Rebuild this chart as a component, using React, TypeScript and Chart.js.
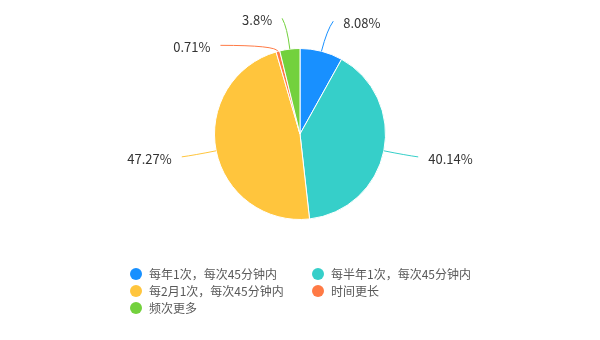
import React, { useEffect, useRef } from "react";
import { Chart, registerables } from "chart.js";

Chart.register(...registerables);

const categories = ["每年1次，每次45分钟内", "每半年1次，每次45分钟内", "每2月1次，每次45分钟内", "时间更长", "频次更多"];
const values = [8.08, 40.14, 47.27, 0.71, 3.8];
const valueLabels = ["8.08%", "40.14%", "47.27%", "0.71%", "3.8%"];
const colors = ["#1890FF", "#36CFC9", "#FFC53D", "#FF7A45", "#73D13D"];

const FONT = "'Noto Sans CJK SC', 'Noto Sans', sans-serif";

const labelPlugin = {
  id: "pieLabels",
  afterDatasetsDraw(chart: any) {
    const ctx = chart.ctx;
    const meta = chart.getDatasetMeta(0);
    const items: any[] = [];
    meta.data.forEach((arc: any, i: number) => {
      const p = arc.getProps(["x", "y", "startAngle", "endAngle", "outerRadius"], true);
      const mid = (p.startAngle + p.endAngle) / 2;
      const r = p.outerRadius;
      const R = r + 31;
      items.push({
        i,
        cx: p.x,
        cy: p.y,
        r,
        R,
        mid,
        right: Math.cos(mid) >= 0,
        y: p.y + Math.sin(mid) * R,
      });
    });
    [true, false].forEach((side) => {
      const group = items.filter((it) => it.right === side).sort((a, b) => a.y - b.y);
      for (let k = 1; k < group.length; k++) {
        if (group[k].y - group[k - 1].y < 27) group[k].y = group[k - 1].y + 27;
      }
    });
    ctx.save();
    items.forEach((it) => {
      const dy = it.y - it.cy;
      const dx = Math.sqrt(Math.max(it.R * it.R - dy * dy, 0)) + 4;
      const ax = it.cx + (it.right ? dx : -dx);
      const ay = it.y;
      const ex = it.cx + Math.cos(it.mid) * it.r;
      const ey = it.cy + Math.sin(it.mid) * it.r;
      let cr = it.r + 22;
      const s = Math.abs(Math.sin(it.mid));
      if (s > 0.2) cr = Math.min(cr, Math.abs(dy) / s);
      cr = Math.max(cr, it.r + 3);
      const mx = it.cx + Math.cos(it.mid) * cr;
      const my = it.cy + Math.sin(it.mid) * cr;
      ctx.strokeStyle = colors[it.i];
      ctx.lineWidth = 1;
      ctx.beginPath();
      ctx.moveTo(ex, ey);
      ctx.quadraticCurveTo(mx, my, ax, ay);
      ctx.stroke();
      ctx.fillStyle = "#333333";
      ctx.font = "13px " + FONT;
      ctx.textBaseline = "middle";
      ctx.textAlign = it.right ? "left" : "right";
      ctx.fillText(valueLabels[it.i], ax + (it.right ? 10 : -10), ay + 2);
    });
    ctx.restore();
  },
};

export default function App() {
  const ref = useRef<HTMLCanvasElement>(null);
  useEffect(() => {
    const chart = new Chart(ref.current!, {
      type: "pie",
      data: {
        labels: categories,
        datasets: [
          {
            data: values,
            backgroundColor: colors,
            borderColor: "#ffffff",
            borderWidth: 1,
            hoverOffset: 0,
          },
        ],
      },
      options: {
        animation: false,
        responsive: false,
        maintainAspectRatio: false,
        events: [],
        layout: { padding: { top: 48, bottom: 120, left: 0, right: 0 } },
        plugins: {
          legend: { display: false },
          tooltip: { enabled: false },
        },
      },
      plugins: [labelPlugin],
    });
    return () => chart.destroy();
  }, []);

  return (
    <div style={{ position: "fixed", left: 0, top: 0, width: 600, height: 340, background: "#fff" }}>
      <canvas ref={ref} width={600} height={340} style={{ position: "absolute", left: 0, top: 0 }} />
      {categories.map((c, i) => {
        const col = i % 2;
        const row = Math.floor(i / 2);
        return (
          <div
            key={c}
            style={{
              position: "absolute",
              left: 130 + col * 182,
              top: 265 + row * 17,
              height: 17,
              display: "flex",
              alignItems: "center",
              fontFamily: FONT,
              fontSize: 12,
              color: "#595959",
              whiteSpace: "nowrap",
            }}
          >
            <span
              style={{
                display: "inline-block",
                width: 12,
                height: 12,
                borderRadius: "50%",
                background: colors[i],
                marginRight: 7,
              }}
            />
            {c}
          </div>
        );
      })}
    </div>
  );
}
